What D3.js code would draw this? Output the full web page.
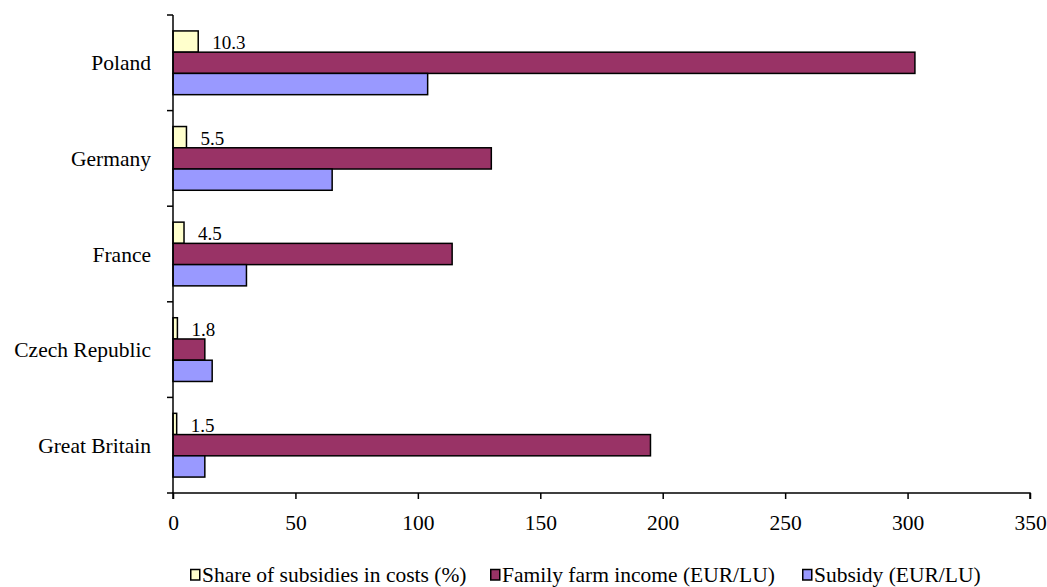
<!DOCTYPE html>
<html>
<head>
<meta charset="utf-8">
<script src="https://cdn.jsdelivr.net/npm/d3@7"></script>
<style>
  html, body { margin: 0; padding: 0; background: #fff; }
  svg { display: block; }
</style>
</head>
<body>
<svg id="chart" width="1047" height="587"></svg>
<script>
// Countries, top to bottom
const countries = ["Poland", "Germany", "France", "Czech Republic", "Great Britain"];
// Series
const seriesNames = ["Share of subsidies in costs (%)", "Family farm income (EUR/LU)", "Subsidy (EUR/LU)"];
const seriesColors = ["#FFFFCC", "#993366", "#9999FF"];
const shareOfSubsidies = [10.3, 5.5, 4.5, 1.8, 1.5];
const familyFarmIncome = [303, 130, 114, 13, 195];
const subsidy = [104, 65, 30, 16, 13];
const xTicks = [0, 50, 100, 150, 200, 250, 300, 350];

const seriesValues = [shareOfSubsidies, familyFarmIncome, subsidy];
const SERIF = "'Liberation Serif', 'Times New Roman', serif";

const svg = d3.select("#chart");
const plotLeft = 173, plotRight = 1030, plotTop = 15, plotBottom = 493;

const x = d3.scaleLinear().domain([0, 350]).range([plotLeft, plotRight]);
const y = d3.scaleBand().domain(countries).range([plotTop, plotBottom]).paddingInner(1/3).paddingOuter(1/6);
const inner = d3.scaleBand().domain(d3.range(seriesNames.length)).range([0, y.bandwidth()]);

// Bars
countries.forEach((c, i) => {
  const g = svg.append("g").attr("transform", `translate(0,${y(c)})`);
  seriesValues.forEach((vals, s) => {
    g.append("rect")
      .attr("x", x(0))
      .attr("y", inner(s))
      .attr("width", x(vals[i]) - x(0))
      .attr("height", inner.bandwidth())
      .attr("fill", seriesColors[s])
      .attr("stroke", "#000")
      .attr("stroke-width", 1.5);
  });
  // value label next to the share bar
  g.append("text")
    .attr("x", x(shareOfSubsidies[i]) + 14)
    .attr("y", inner(0) + inner.bandwidth() - 3)
    .style("font-family", SERIF)
    .style("font-size", "19px")
    .attr("fill", "#000")
    .text(shareOfSubsidies[i]);
});

// X axis
const xAxis = svg.append("g")
  .attr("transform", `translate(0,${plotBottom})`)
  .call(d3.axisBottom(x).tickValues(xTicks).tickSize(6).tickPadding(16).tickFormat(d3.format("d")));
xAxis.select(".domain").attr("stroke", "#000").attr("stroke-width", 1.5).attr("d", `M${plotLeft},6V0H${plotRight}V6`);
xAxis.selectAll(".tick line").attr("stroke", "#000").attr("stroke-width", 1.5);
xAxis.selectAll(".tick text")
  .style("font-family", SERIF)
  .style("font-size", "21.5px")
  .attr("fill", "#000");

// Y axis: ticks at category boundaries
const boundaries = countries.map(c => y(c) - y.step() * y.paddingInner() / 2).concat([plotBottom]);
const yAxis = svg.append("g");
yAxis.append("line")
  .attr("x1", plotLeft).attr("x2", plotLeft).attr("y1", plotTop).attr("y2", plotBottom)
  .attr("stroke", "#000").attr("stroke-width", 1.5);
yAxis.selectAll(".bt").data(boundaries).join("line")
  .attr("x1", plotLeft - 6).attr("x2", plotLeft).attr("y1", d => d).attr("y2", d => d)
  .attr("stroke", "#000").attr("stroke-width", 1.5);
yAxis.selectAll(".lbl").data(countries).join("text")
  .attr("x", 151)
  .attr("y", d => y(d) + y.bandwidth() / 2)
  .attr("dy", "0.35em")
  .attr("text-anchor", "end")
  .style("font-family", SERIF)
  .style("font-size", "21.5px")
  .attr("fill", "#000")
  .text(d => d);

// Legend
const legendX = [190, 490, 802];
const legend = svg.append("g");
seriesNames.forEach((name, s) => {
  legend.append("rect")
    .attr("x", legendX[s] + 0.75).attr("y", 569.5)
    .attr("width", 9).attr("height", 10.5)
    .attr("fill", seriesColors[s]).attr("stroke", "#000").attr("stroke-width", 1.5);
  legend.append("text")
    .attr("x", legendX[s] + 12).attr("y", 582)
    .style("font-family", SERIF)
    .style("font-size", "21.5px")
    .attr("fill", "#000")
    .text(name);
});
</script>
</body>
</html>
